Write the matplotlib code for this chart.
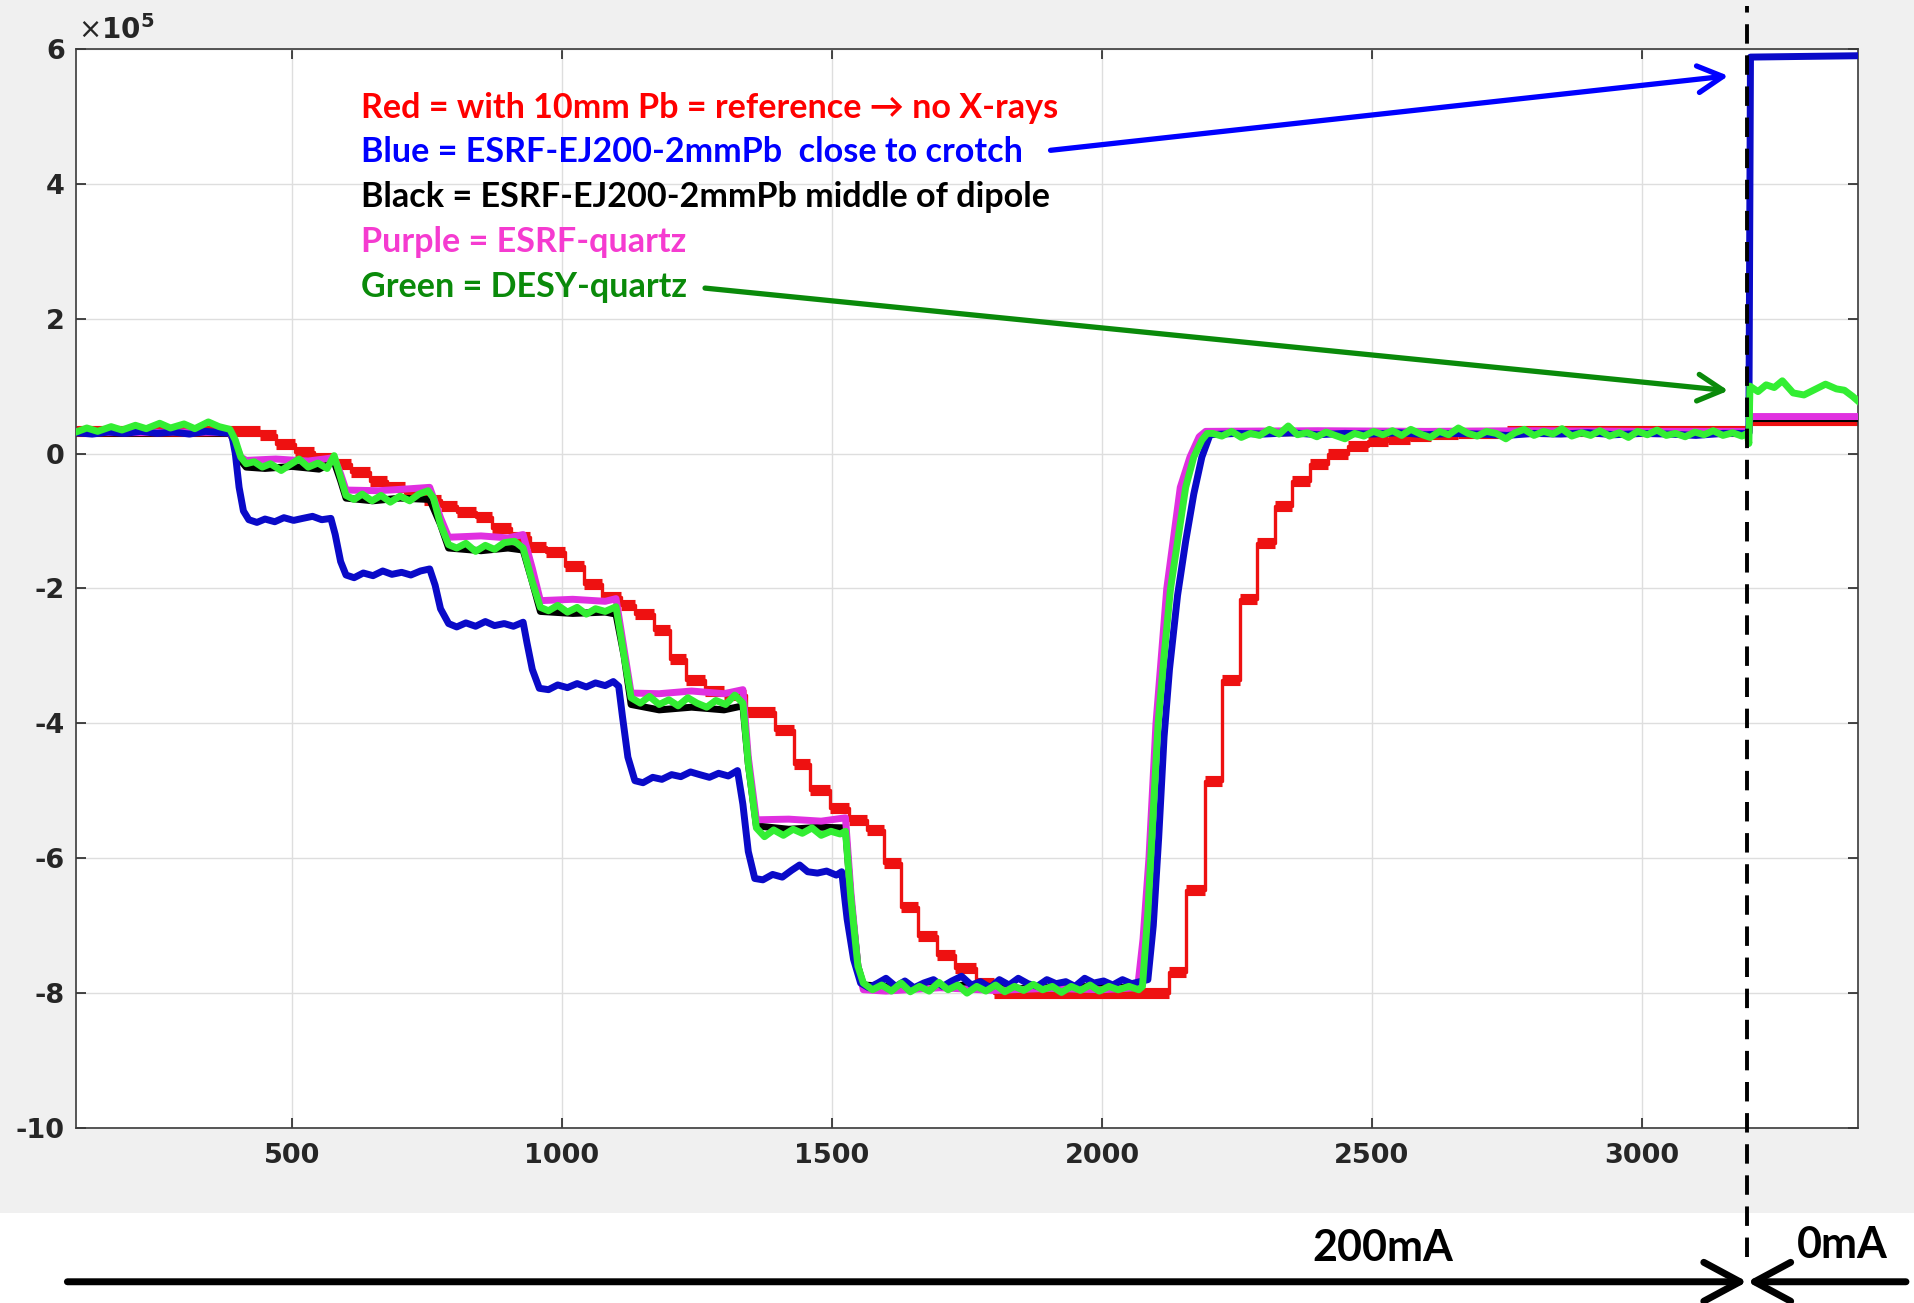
import matplotlib
matplotlib.use("Agg")
import matplotlib.pyplot as plt
from matplotlib.patches import Rectangle

# detector signals vs time, in units of 1e5
t_end = 3400
t_dump = 3195

red_t = [100, 440, 470, 505, 540, 575, 610, 645, 675, 710, 745, 775, 805, 840, 870,
         905, 940, 970, 1005, 1040, 1075, 1110, 1135, 1170, 1200, 1230, 1265, 1300,
         1340, 1395, 1430, 1460, 1496, 1532, 1564, 1596, 1628, 1660, 1695, 1727, 1766,
         1800, 2124, 2156, 2191, 2223, 2255, 2287, 2320, 2352, 2385, 2418, 2455, 2492,
         2530, 2570, 2610, 2660, 2750, 3198]
red_v = [0.33, 0.27, 0.14, 0.02, -0.07, -0.15, -0.27, -0.41, -0.50, -0.58, -0.69, -0.77,
         -0.87, -0.94, -1.11, -1.24, -1.39, -1.46, -1.66, -1.93, -2.13, -2.25, -2.38,
         -2.62, -3.04, -3.36, -3.52, -3.58, -3.83, -4.10, -4.60, -4.99, -5.26, -5.43,
         -5.58, -6.07, -6.72, -7.16, -7.43, -7.63, -7.85, -8.00, -7.68, -6.47, -4.86,
         -3.36, -2.15, -1.33, -0.77, -0.40, -0.16, 0.00, 0.11, 0.18, 0.22, 0.26, 0.29,
         0.31, 0.33, 0.50]

blue_t = [100, 130, 160, 190, 220, 250, 280, 310, 340, 370, 388, 395, 402, 410, 420,
          435, 450, 468, 485, 503, 520, 538, 555, 572, 580, 590, 600,
          615, 632, 650, 668, 685, 703, 720, 738, 755, 765, 775, 790,
          805, 822, 840, 858, 875, 893, 910, 928, 935, 945, 958,
          975, 992, 1010, 1028, 1045, 1062, 1080, 1095, 1105, 1112, 1122, 1135,
          1150, 1168, 1185, 1203, 1220, 1238, 1255, 1273, 1290, 1308, 1325, 1335, 1345, 1357,
          1372, 1390, 1408, 1425, 1440, 1455, 1473, 1490, 1508, 1518, 1528, 1540, 1553,
          1568, 1585, 1600, 1618, 1635, 1652, 1670, 1688, 1705, 1722, 1740, 1758, 1775,
          1793, 1810, 1828, 1845, 1863, 1880, 1898, 1915, 1933, 1950, 1968, 1985, 2003,
          2020, 2038, 2055, 2075, 2085, 2095, 2105, 2115, 2125, 2140, 2155, 2170, 2185, 2200,
          2250, 2300, 2350, 2400, 2450, 2500, 2550, 2600, 2650, 2700, 2750, 2800, 2850,
          2900, 2950, 3000, 3050, 3100, 3150, 3198, 3201, 3400]
blue_v = [0.31, 0.29, 0.32, 0.30, 0.33, 0.30, 0.32, 0.29, 0.33, 0.31, 0.30, 0.00, -0.50, -0.85, -0.98,
          -1.02, -0.97, -1.01, -0.95, -0.99, -0.96, -0.93, -0.98, -0.96, -1.20, -1.60, -1.80,
          -1.84, -1.77, -1.81, -1.74, -1.79, -1.76, -1.80, -1.74, -1.71, -1.95, -2.30, -2.52,
          -2.57, -2.51, -2.56, -2.49, -2.55, -2.52, -2.56, -2.50, -2.80, -3.20, -3.48,
          -3.50, -3.43, -3.47, -3.41, -3.46, -3.40, -3.44, -3.38, -3.45, -3.90, -4.50, -4.85,
          -4.88, -4.80, -4.83, -4.76, -4.79, -4.72, -4.76, -4.80, -4.74, -4.78, -4.70, -5.20, -5.90, -6.30,
          -6.32, -6.24, -6.28, -6.18, -6.10, -6.20, -6.22, -6.19, -6.25, -6.20, -6.90, -7.50, -7.85,
          -7.92, -7.85, -7.78, -7.90, -7.82, -7.92, -7.85, -7.80, -7.90, -7.82, -7.75, -7.88, -7.83,
          -7.92, -7.80, -7.88, -7.78, -7.86, -7.90, -7.80, -7.86, -7.83, -7.90, -7.78, -7.85, -7.82,
          -7.88, -7.80, -7.86, -7.82, -7.80, -7.00, -5.70, -4.20, -3.20, -2.10, -1.30, -0.60, -0.05, 0.28,
          0.30, 0.29, 0.31, 0.28, 0.30, 0.29, 0.31, 0.28, 0.30, 0.29, 0.27, 0.30, 0.29,
          0.31, 0.28, 0.30, 0.29, 0.27, 0.30, 0.30, 5.88, 5.90]

black_t = [100, 200, 300, 385, 395, 405, 415, 450, 500, 550, 578, 590, 600,
           650, 700, 755, 775, 790, 850, 900, 928, 945, 960, 1020, 1080, 1100, 1115, 1128,
           1180, 1240, 1300, 1335, 1345, 1360, 1420, 1480, 1525, 1535, 1548, 1558,
           1650, 1750, 1850, 1950, 2068, 2078, 2090, 2102, 2124, 2150, 2168, 2185, 2195,
           2400, 2700, 3000, 3198, 3200, 3400]
black_v = [0.31, 0.30, 0.31, 0.30, 0.15, -0.10, -0.20, -0.22, -0.19, -0.23, -0.12, -0.40, -0.66,
           -0.70, -0.66, -0.68, -1.05, -1.40, -1.44, -1.40, -1.43, -1.90, -2.34, -2.37, -2.35, -2.38, -3.00, -3.72,
           -3.80, -3.76, -3.80, -3.74, -4.60, -5.52, -5.57, -5.54, -5.55, -6.60, -7.60, -7.88,
           -7.92, -7.88, -7.93, -7.90, -7.92, -7.20, -6.00, -4.10, -2.10, -0.60, -0.05, 0.22, 0.30,
           0.31, 0.32, 0.31, 0.31, 0.52, 0.52]

pink_t = [100, 200, 300, 385, 395, 405, 415, 470, 530, 578, 590, 600,
          660, 720, 755, 775, 790, 850, 900, 928, 945, 960, 1020, 1080, 1100, 1115, 1128,
          1180, 1240, 1300, 1335, 1345, 1360, 1420, 1480, 1525, 1535, 1548, 1558,
          1600, 1700, 1800, 1900, 2000, 2066, 2076, 2087, 2100, 2120, 2145, 2163, 2180, 2192,
          2400, 2600, 2800, 3000, 3198, 3200, 3400]
pink_v = [0.32, 0.31, 0.32, 0.31, 0.15, -0.05, -0.10, -0.08, -0.11, -0.06, -0.30, -0.54,
          -0.55, -0.52, -0.50, -0.95, -1.24, -1.22, -1.25, -1.20, -1.70, -2.18, -2.16, -2.19, -2.15, -2.90, -3.55,
          -3.56, -3.52, -3.56, -3.50, -4.50, -5.43, -5.42, -5.45, -5.40, -6.50, -7.60, -7.95,
          -7.97, -7.92, -7.96, -7.93, -7.95, -7.92, -7.20, -6.00, -4.00, -2.00, -0.50, -0.05, 0.25, 0.33,
          0.34, 0.33, 0.34, 0.33, 0.33, 0.55, 0.55]

green_t = [100, 120, 140, 165, 185, 210, 230, 255, 275, 300, 320, 345, 365, 385,
           395, 405, 415, 430, 445, 460, 480, 495, 513, 530, 548, 565, 578, 590, 600,
           615, 630, 648, 665, 682, 700, 718, 735, 752, 762, 775, 790,
           805, 822, 840, 858, 875, 893, 912, 928, 945, 960,
           975, 992, 1010, 1028, 1045, 1062, 1080, 1100, 1115, 1128,
           1145, 1162, 1180, 1198, 1215, 1233, 1250, 1268, 1285, 1303, 1320, 1335, 1345, 1360,
           1375, 1392, 1410, 1428, 1445, 1463, 1480, 1498, 1515, 1525, 1535, 1548, 1558,
           1575, 1592, 1610, 1628, 1645, 1662, 1680, 1698, 1715, 1733, 1750, 1768, 1785,
           1803, 1820, 1838, 1855, 1873, 1890, 1908, 1925, 1943, 1960, 1978, 1995, 2013,
           2030, 2050, 2068, 2075, 2085, 2095, 2104, 2115, 2127, 2140, 2155, 2170, 2185, 2195,
           2205, 2222, 2240, 2258, 2275, 2292, 2310, 2328, 2345, 2362, 2380, 2398, 2415,
           2432, 2450, 2468, 2485, 2503, 2520, 2538, 2555, 2572, 2590, 2608, 2625, 2642,
           2660, 2678, 2695, 2712, 2730, 2748, 2765, 2782, 2800, 2818, 2835, 2852, 2870,
           2888, 2905, 2922, 2940, 2958, 2975, 2992, 3010, 3028, 3045, 3062, 3080, 3098,
           3115, 3132, 3150, 3168, 3185, 3195, 3198, 3200, 3215, 3230, 3245, 3260, 3280,
           3300, 3320, 3340, 3360, 3375, 3390, 3400]
green_v = [0.32, 0.38, 0.33, 0.40, 0.35, 0.42, 0.37, 0.45, 0.38, 0.44, 0.37, 0.47, 0.40, 0.36,
           0.20, -0.05, -0.15, -0.12, -0.20, -0.15, -0.25, -0.17, -0.08, -0.20, -0.14, -0.22, -0.03, -0.35, -0.62,
           -0.68, -0.60, -0.70, -0.62, -0.72, -0.63, -0.70, -0.60, -0.55, -0.66, -1.05, -1.35,
           -1.40, -1.33, -1.45, -1.36, -1.42, -1.32, -1.30, -1.40, -1.90, -2.28,
           -2.33, -2.25, -2.35, -2.28, -2.38, -2.30, -2.34, -2.27, -3.00, -3.62,
           -3.70, -3.60, -3.72, -3.65, -3.74, -3.62, -3.70, -3.76, -3.66, -3.72, -3.58, -3.70, -4.60, -5.55,
           -5.68, -5.58, -5.66, -5.57, -5.63, -5.55, -5.66, -5.60, -5.64, -5.60, -6.60, -7.60, -7.85,
           -7.95, -7.88, -7.97, -7.85, -7.98, -7.90, -7.97, -7.84, -7.95, -7.88, -8.00, -7.90, -7.97,
           -7.88, -7.98, -7.90, -7.96, -7.87, -7.95, -7.90, -7.99, -7.90, -7.96, -7.88, -7.97, -7.90,
           -7.95, -7.90, -7.95, -7.90, -6.80, -5.30, -4.00, -3.00, -2.00, -1.30, -0.50, -0.05, 0.20, 0.30,
           0.30, 0.26, 0.33, 0.24, 0.30, 0.27, 0.36, 0.29, 0.41, 0.28, 0.31, 0.25, 0.32,
           0.27, 0.22, 0.30, 0.26, 0.33, 0.28, 0.34, 0.27, 0.36, 0.29, 0.24, 0.33, 0.28,
           0.38, 0.30, 0.26, 0.33, 0.30, 0.22, 0.31, 0.36, 0.27, 0.33, 0.29, 0.37, 0.26,
           0.31, 0.27, 0.34, 0.26, 0.31, 0.24, 0.33, 0.28, 0.35, 0.27, 0.30, 0.25, 0.32,
           0.28, 0.34, 0.27, 0.31, 0.26, 0.30, 0.15, 1.00, 0.92, 1.02, 0.98, 1.08, 0.90,
           0.87, 0.95, 1.03, 0.96, 0.94, 0.85, 0.78]

legend_lines = [
    ("Red = with 10mm Pb = reference \u2192 no X-rays", "#ff0000"),
    ("Blue = ESRF-EJ200-2mmPb  close to crotch", "#0000ff"),
    ("Black = ESRF-EJ200-2mmPb middle of dipole", "#000000"),
    ("Purple = ESRF-quartz", "#f53bd0"),
    ("Green = DESY-quartz", "#0a8a0a"),
]

plt.rcParams['mathtext.fontset'] = 'dejavusans'
plt.rcParams['axes.unicode_minus'] = False

fig = plt.figure(figsize=(19.15, 13.03), dpi=100)
fig.patch.set_facecolor('white')
# grey window background of the original figure
fig.add_artist(Rectangle((0, 0.069), 1, 0.931, transform=fig.transFigure,
                         facecolor='#f0f0f0', edgecolor='none', zorder=-5))

ax = fig.add_axes([0.0397, 0.1343, 0.9305, 0.8281])
ax.set_facecolor('white')

# red: thin steps with thick plateaus
ax.step(red_t + [t_end], red_v + [red_v[-1]], where='post', color='#ee1111', lw=2.4, zorder=2)
ax.hlines(red_v, red_t, red_t[1:] + [t_end], colors='#ee1111', lw=8, zorder=2)

ax.plot(black_t, black_v, color='#000000', lw=5, zorder=3)
ax.plot(pink_t, pink_v, color='#e030e0', lw=5, zorder=4)
ax.plot(blue_t, blue_v, color='#0a0ac8', lw=5, zorder=5)
ax.plot(green_t, green_v, color='#33ee33', lw=5, zorder=6)

ax.set_xlim(100, t_end)
ax.set_ylim(-10, 6)
ax.set_xticks([500, 1000, 1500, 2000, 2500, 3000])
ax.set_yticks(range(-10, 7, 2))
ax.grid(True, color='#dedede', lw=1.0)
ax.set_axisbelow(True)
ax.tick_params(direction='in', length=7, width=1.2, top=True, right=True,
               labelsize=19.5, colors='#262626')
ax.tick_params(axis='x', pad=11)
ax.tick_params(axis='y', pad=8)
for lab in ax.get_xticklabels() + ax.get_yticklabels():
    lab.set_fontweight('bold')
for sp in ax.spines.values():
    sp.set_color('#3a3a3a')
    sp.set_linewidth(1.2)

ax.text(0.001, 1.004, r'$\times\mathbf{10^{5}}$', transform=ax.transAxes,
        fontsize=20, color='#262626', ha='left', va='bottom')

# legend text
for i, (txt, col) in enumerate(legend_lines):
    ax.text(0.1597, 0.9457 - i * 0.0416, txt, transform=ax.transAxes, color=col,
            fontsize=24.6, fontweight='bold', family=['Lato', 'DejaVu Sans'],
            ha='left', va='center', zorder=8)

# pointers from the legend to the jump
ax.annotate('', xy=(0.9273, 0.9751), xytext=(0.5469, 0.9061), xycoords='axes fraction',
            arrowprops=dict(arrowstyle='->,head_length=0.6,head_width=0.32', color='#0000ff',
                            lw=3.8, shrinkA=0, shrinkB=0, mutation_scale=30), zorder=8)
ax.annotate('', xy=(0.9273, 0.6833), xytext=(0.3530, 0.7784), xycoords='axes fraction',
            arrowprops=dict(arrowstyle='->,head_length=0.6,head_width=0.32', color='#0a8a0a',
                            lw=3.8, shrinkA=0, shrinkB=0, mutation_scale=30), zorder=8)

# beam dump marker
ax.axvline(t_dump, ymin=-0.12, ymax=1.04, color='k', lw=2.8, ls=(0, (5, 3)),
           clip_on=False, zorder=10)

# beam current arrows under the plot
for start in (84, 3489):
    ax.annotate('', xy=(t_dump, -0.1425), xytext=(start, -0.1425),
                xycoords=('data', 'axes fraction'), textcoords=('data', 'axes fraction'),
                arrowprops=dict(arrowstyle='->,head_length=0.65,head_width=0.35', color='k',
                                lw=5, shrinkA=0, shrinkB=0, mutation_scale=40),
                annotation_clip=False)
ax.text(0.7334, -0.1109, '200mA', transform=ax.transAxes, fontsize=31, fontweight='bold',
        family=['Lato', 'DejaVu Sans'], ha='center', va='center', clip_on=False)
ax.text(0.9911, -0.1086, '0mA', transform=ax.transAxes, fontsize=31, fontweight='bold',
        family=['Lato', 'DejaVu Sans'], ha='center', va='center', clip_on=False)

fig.savefig('out.png', dpi=100)
